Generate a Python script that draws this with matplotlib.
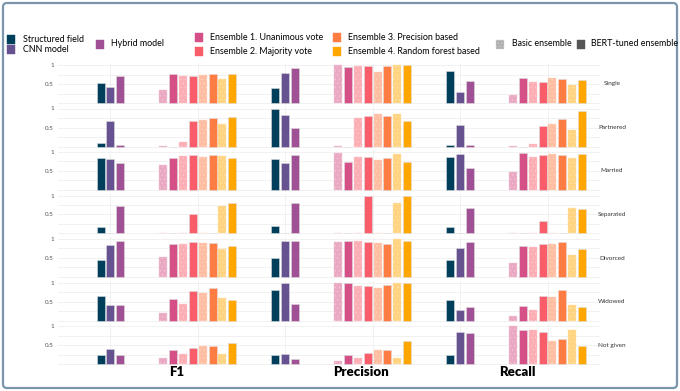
import numpy as np
import matplotlib.pyplot as plt
from matplotlib.patches import Rectangle, FancyBboxPatch
from matplotlib.colors import to_rgb

plt.rcParams['font.family'] = ['Lato', 'DejaVu Sans']
plt.rcParams['hatch.linewidth'] = 0.4

# categories
rows = ["Single", "Partnered", "Married", "Separated", "Divorced", "Widowed", "Not given"]
metrics = ["F1", "Precision", "Recall"]
single_models = ["Structured field", "CNN model", "Hybrid model"]
ensembles = ["Ensemble 1. Unanimous vote", "Ensemble 2. Majority vote",
             "Ensemble 3. Precision based", "Ensemble 4. Random forest based"]

# values per row, bar order:
# structured, CNN, hybrid, E1 basic, E1 BERT, E2 basic, E2 BERT, E3 basic, E3 BERT, E4 basic, E4 BERT
f1_scores = [
    [0.53, 0.42, 0.71, 0.34, 0.77, 0.71, 0.71, 0.73, 0.76, 0.64, 0.76],
    [0.08, 0.67, 0.05, 0.01, 0.00, 0.12, 0.66, 0.69, 0.76, 0.58, 0.77],
    [0.85, 0.81, 0.70, 0.65, 0.83, 0.89, 0.91, 0.88, 0.91, 0.89, 0.84],
    [0.18, 0.01, 0.73, 0.01, 0.00, 0.01, 0.50, 0.01, 0.00, 0.73, 0.80],
    [0.46, 0.84, 0.94, 0.53, 0.88, 0.86, 0.91, 0.89, 0.89, 0.74, 0.82],
    [0.64, 0.42, 0.40, 0.20, 0.56, 0.44, 0.77, 0.73, 0.86, 0.58, 0.53],
    [0.23, 0.39, 0.24, 0.16, 0.36, 0.27, 0.43, 0.47, 0.47, 0.27, 0.54],
]
precision_scores = [
    [0.40, 0.80, 0.92, 1.00, 0.94, 0.97, 0.97, 0.82, 0.97, 1.00, 1.00],
    [1.00, 0.82, 0.50, 0.01, 0.00, 0.75, 0.81, 0.85, 0.81, 0.85, 0.66],
    [0.82, 0.70, 0.91, 0.98, 0.73, 0.88, 0.86, 0.78, 0.84, 0.94, 0.73],
    [0.19, 0.01, 0.80, 0.01, 0.00, 0.01, 1.00, 0.01, 0.00, 0.80, 1.00],
    [0.50, 0.95, 0.96, 0.93, 0.96, 0.96, 0.93, 0.90, 0.88, 1.00, 0.96],
    [0.81, 0.99, 0.44, 0.99, 0.99, 0.91, 0.91, 0.86, 0.93, 0.99, 0.99],
    [0.23, 0.26, 0.14, 0.08, 0.23, 0.15, 0.28, 0.36, 0.36, 0.15, 0.61],
]
recall_scores = [
    [0.84, 0.29, 0.58, 0.20, 0.65, 0.56, 0.56, 0.65, 0.63, 0.47, 0.60],
    [0.04, 0.57, 0.03, 0.01, 0.00, 0.07, 0.55, 0.58, 0.73, 0.43, 0.94],
    [0.87, 0.95, 0.57, 0.47, 0.98, 0.87, 0.93, 0.95, 0.93, 0.83, 0.95],
    [0.16, 0.01, 0.66, 0.01, 0.00, 0.01, 0.33, 0.01, 0.00, 0.66, 0.65],
    [0.44, 0.76, 0.91, 0.38, 0.82, 0.79, 0.88, 0.88, 0.91, 0.58, 0.73],
    [0.53, 0.27, 0.36, 0.12, 0.38, 0.28, 0.65, 0.62, 0.80, 0.41, 0.35],
    [0.23, 0.85, 0.81, 1.00, 0.90, 0.90, 0.85, 0.61, 0.67, 0.90, 0.47],
]
all_scores = [f1_scores, precision_scores, recall_scores]

single_colors = ["#003f5c", "#665191", "#a05195"]
ens_colors = ["#d45087", "#f95d6a", "#ff7c43", "#ffa600"]


def lighten(c, amt=0.5):
    r = np.array(to_rgb(c))
    return tuple(r + (1 - r) * amt)


W, H = 680, 391
fig = plt.figure(figsize=(W / 100, H / 100), dpi=100)

# background / legend layer in pixel coords
lax = fig.add_axes([0, 0, 1, 1])
lax.set_xlim(0, W)
lax.set_ylim(H, 0)
lax.axis("off")
lax.add_patch(FancyBboxPatch((3, 3), W - 6, H - 6, boxstyle="round,pad=0,rounding_size=4",
                             fc="white", ec="#7b95ad", lw=1.6, zorder=0))

# legend
def key(x, y, col, hatch=None):
    lax.add_patch(Rectangle((x, y), 8, 8.5, fc=col, ec=lighten(col, 0.4) if hatch else col,
                            hatch=hatch, lw=0.3))

ft = 6.4
key(7, 35, single_colors[0]); lax.text(23, 39.5, single_models[0], va="center", fontsize=ft)
key(7, 45, single_colors[1]); lax.text(23, 49.5, single_models[1], va="center", fontsize=ft)
key(96, 40, single_colors[2]); lax.text(111, 44, single_models[2], va="center", fontsize=ft)
key(195, 33, ens_colors[0]); lax.text(210, 37.5, ensembles[0], va="center", fontsize=ft)
key(195, 47, ens_colors[1]); lax.text(210, 51.5, ensembles[1], va="center", fontsize=ft)
key(333, 33, ens_colors[2]); lax.text(348, 37.5, ensembles[2], va="center", fontsize=ft)
key(333, 47, ens_colors[3]); lax.text(348, 51.5, ensembles[3], va="center", fontsize=ft)
key(496, 40, "#b0b0b0", hatch="....."); lax.text(512, 44, "Basic ensemble", va="center", fontsize=ft)
key(577, 40, "#555555"); lax.text(591, 44, "BERT-tuned ensemble", va="center", fontsize=ft)

# column titles
for name, cx in zip(metrics, [177, 361, 517]):
    lax.text(cx, 372, name, ha="center", va="center", fontsize=9.5, fontweight="heavy")

# panels
slot = 0.1125
bw = 0.092
x_left, x_right = 58, 600
grid_col = "#ececec"

for i, row in enumerate(rows):
    top = 63.1 + 43.5 * i
    h = 41.8
    ax = fig.add_axes([x_left / W, 1 - (top + h) / H, (x_right - x_left) / W, h / H])
    ax.patch.set_alpha(0)
    ax.set_xlim(-0.6, 5.6)
    ax.set_ylim(-0.05, 1.05)
    for yv in [0, 0.25, 0.5, 0.75, 1]:
        ax.axhline(yv, color=grid_col, lw=0.5, zorder=0)
    for xv in range(6):
        ax.axvline(xv, color=grid_col, lw=0.5, zorder=0)

    for m, scores in enumerate(all_scores):
        vals = scores[i]
        c1 = 2 * m
        c2 = 2 * m + 1
        xs = c1 + (np.arange(3) - 1) * slot
        ax.bar(xs, vals[:3], width=bw, color=single_colors, edgecolor="#dcdcdc",
               linewidth=0.4, zorder=2)
        for k in range(4):
            xb = c2 + (2 * k - 3.5) * slot
            xt = c2 + (2 * k + 1 - 3.5) * slot
            light = lighten(ens_colors[k])
            ax.bar(xb, vals[3 + 2 * k], width=bw, color=light,
                   edgecolor=lighten(ens_colors[k], 0.68), hatch="....",
                   linewidth=0.3, zorder=2)
            ax.bar(xt, vals[4 + 2 * k], width=bw, color=ens_colors[k],
                   edgecolor="#dcdcdc", linewidth=0.4, zorder=2)

    for s in ax.spines.values():
        s.set_visible(False)
    ax.set_xticks([])
    ax.set_yticks([0.5, 1])
    ax.set_yticklabels(["0.5", "1"], fontsize=4.5, color="#555555")
    ax.tick_params(axis="y", length=0, pad=3)
    ax.text(1.022, 0.5, row, transform=ax.transAxes, ha="center", va="center",
            fontsize=4.6, color="#333333")

fig.savefig("out.png", dpi=100)
